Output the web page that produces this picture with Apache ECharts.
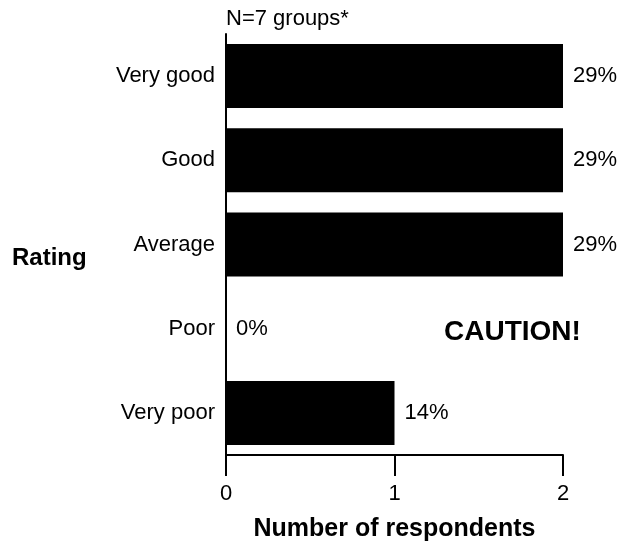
<!DOCTYPE html>
<html>
<head>
<meta charset="utf-8">
<script src="https://cdn.jsdelivr.net/npm/echarts@6/dist/echarts.min.js"></script>
<style>
  html, body { margin: 0; padding: 0; background: #fff; }
  #chart { width: 619px; height: 546px; }
</style>
</head>
<body>
<div id="chart"></div>
<script>
const categories = ['Very good', 'Good', 'Average', 'Poor', 'Very poor'];
const counts = [2, 2, 2, 0, 1];
const percentLabels = ['29%', '29%', '29%', '0%', '14%'];
const xTicks = [0, 1, 2];

const FONT = '"Liberation Sans", Arial, sans-serif';
const chart = echarts.init(document.getElementById('chart'), null, { renderer: 'canvas' });

chart.setOption({
  animation: false,
  backgroundColor: '#ffffff',
  textStyle: { fontFamily: FONT, color: '#000' },
  grid: { left: 226, right: 56, top: 34, bottom: 91, containLabel: false, outerBoundsMode: 'none' },
  xAxis: {
    type: 'value',
    min: xTicks[0],
    max: xTicks[xTicks.length - 1],
    interval: 1,
    name: 'Number of respondents',
    nameLocation: 'middle',
    nameGap: 62,
    nameTextStyle: { fontFamily: FONT, fontSize: 25, fontWeight: 'bold', color: '#000' },
    axisLine: { show: true, lineStyle: { color: '#000', width: 2 } },
    axisTick: { show: true, length: 21, lineStyle: { color: '#000', width: 2 } },
    axisLabel: { fontFamily: FONT, fontSize: 22, color: '#000', margin: 28 },
    splitLine: { show: false }
  },
  yAxis: {
    type: 'category',
    data: categories,
    inverse: true,
    axisLine: { show: true, lineStyle: { color: '#000', width: 2 } },
    axisTick: { show: false },
    axisLabel: { fontFamily: FONT, fontSize: 22, color: '#000', margin: 11 },
    splitLine: { show: false }
  },
  graphic: [
    { type: 'text', left: 226, top: 8, style: { text: 'N=7 groups*', font: '22px ' + FONT, fill: '#000' } },
    { type: 'text', left: 12, top: 246, style: { text: 'Rating', font: 'bold 24px ' + FONT, fill: '#000' } },
    { type: 'text', left: 444, top: 318, style: { text: 'CAUTION!', font: 'bold 28px ' + FONT, fill: '#000' } }
  ],
  series: [{
    type: 'bar',
    data: counts,
    barCategoryGap: '24%',
    itemStyle: { color: '#000' },
    label: {
      show: true,
      position: 'right',
      distance: 10,
      fontFamily: FONT,
      fontSize: 22,
      color: '#000',
      formatter: p => percentLabels[p.dataIndex]
    }
  }]
});
</script>
</body>
</html>
